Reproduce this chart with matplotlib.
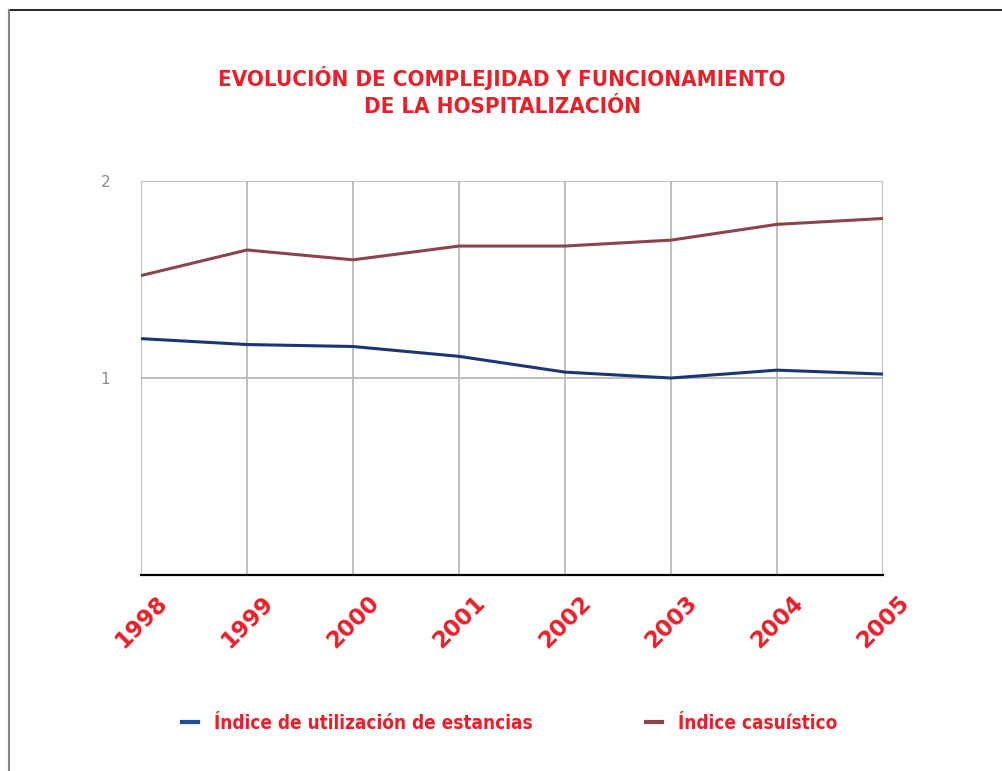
import matplotlib.pyplot as plt
from matplotlib.lines import Line2D

years = ['1998', '1999', '2000', '2001', '2002', '2003', '2004', '2005']
estancias = [1.20, 1.17, 1.16, 1.11, 1.03, 1.00, 1.04, 1.02]
casuistico = [1.52, 1.65, 1.60, 1.67, 1.67, 1.70, 1.78, 1.81]
labels = ['Índice de utilización de estancias', 'Índice casuístico']

red = '#e8202a'
blue = '#1b3577'
maroon = '#8b444b'

fig = plt.figure(figsize=(10.02, 7.71), dpi=100)
ax = fig.add_axes([0.1407, 0.2542, 0.7405, 0.511])

x = list(range(len(years)))
ax.plot(x, estancias, color=blue, lw=2.2, solid_joinstyle='miter')
ax.plot(x, casuistico, color=maroon, lw=2.2, solid_joinstyle='miter')

ax.set_xlim(0, len(years) - 1)
ax.set_ylim(0, 2)
ax.set_yticks([1, 2])
ax.set_yticklabels(['1', '2'], color='#8c8c8c', fontsize=11)
ax.set_xticks(x)
ax.set_xticklabels(years, rotation=45, ha='center', va='center',
                   rotation_mode='anchor', color=red, fontsize=16.5,
                   fontweight='bold')
ax.tick_params(axis='x', length=0, pad=34)
ax.tick_params(axis='y', length=0, pad=22)
ax.grid(True, color='#b4b4b4', lw=1.2)
ax.set_axisbelow(True)
for s in ['left', 'right', 'top']:
    ax.spines[s].set_visible(False)
ax.spines['bottom'].set_color('black')
ax.spines['bottom'].set_linewidth(1.6)

fig.text(0.501, 0.881, 'EVOLUCIÓN DE COMPLEJIDAD Y FUNCIONAMIENTO\nDE LA HOSPITALIZACIÓN',
         ha='center', va='center', color=red, fontsize=16, fontweight='bold',
         family='DejaVu Sans', fontstretch='condensed', linespacing=1.45)

handles = [Line2D([], [], color='#1f4e9e', lw=3), Line2D([], [], color=maroon, lw=3)]
leg = fig.legend(handles, labels, loc='center', bbox_to_anchor=(0.509, 0.062),
                 ncol=2, frameon=False, handlelength=0.85, handletextpad=0.85,
                 columnspacing=6.0,
                 prop={'family': 'DejaVu Sans', 'stretch': 'condensed',
                       'weight': 'bold', 'size': 13.6})
for t in leg.get_texts():
    t.set_color(red)

# page frame
fig.add_artist(Line2D([0.009, 1.0], [1 - 10 / 771] * 2, color='black', lw=1.2,
                      transform=fig.transFigure))
fig.add_artist(Line2D([0.009, 0.009], [0, 1 - 10 / 771], color='#888888', lw=1.5,
                      transform=fig.transFigure))

fig.savefig('out.png', dpi=100)
